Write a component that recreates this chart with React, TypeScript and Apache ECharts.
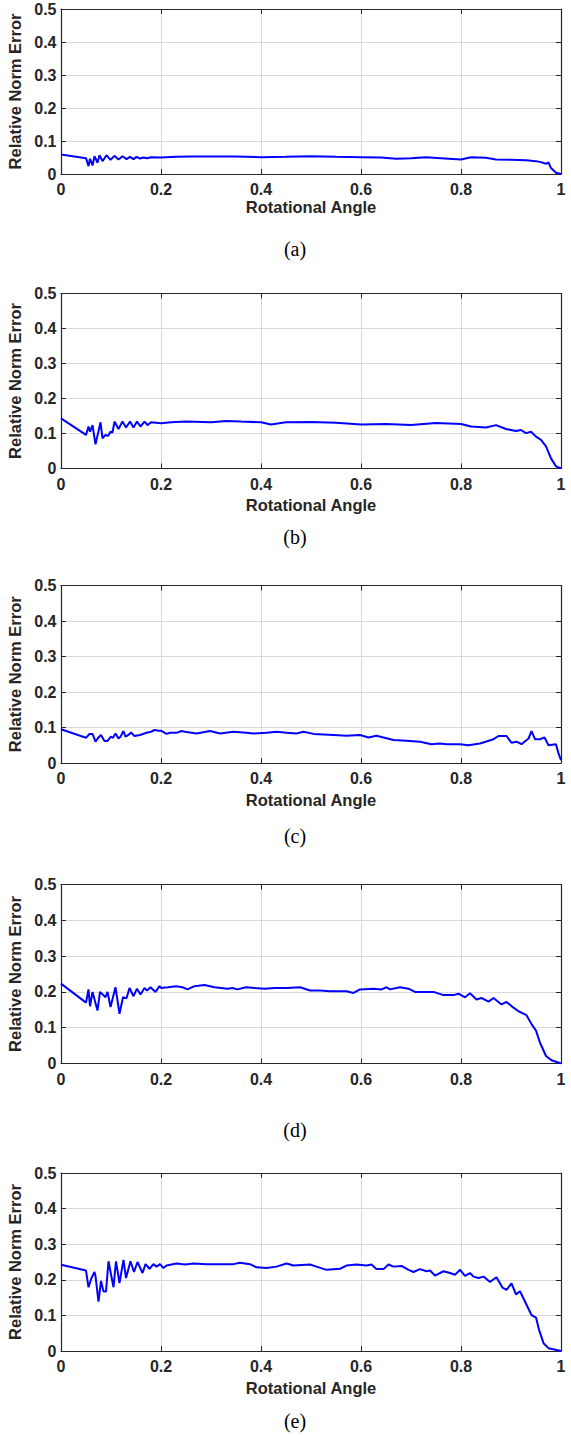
import React, { useEffect, useRef } from "react";
import * as echarts from "echarts";

// ---------- data ----------
const xTicks = [0, 0.2, 0.4, 0.6, 0.8, 1];
const yTicks = [0, 0.1, 0.2, 0.3, 0.4, 0.5];
const captions = ["(a)", "(b)", "(c)", "(d)", "(e)"];
const xTitle = "Rotational Angle";
const yTitle = "Relative Norm Error";
const showXTitle = [true, true, true, false, true];

const seriesA: number[][] = [
  [0, 0.059], [0.05, 0.048], [0.055, 0.024], [0.058, 0.046], [0.063, 0.026], [0.067, 0.054],
  [0.073, 0.034], [0.077, 0.057], [0.083, 0.039], [0.091, 0.057], [0.099, 0.043], [0.107, 0.055],
  [0.115, 0.044], [0.123, 0.054], [0.131, 0.045], [0.138, 0.052], [0.145, 0.045], [0.151, 0.052],
  [0.158, 0.047], [0.165, 0.05], [0.172, 0.048], [0.18, 0.051], [0.2, 0.05], [0.23, 0.052],
  [0.26, 0.053], [0.3, 0.053], [0.35, 0.053], [0.4, 0.051], [0.45, 0.052], [0.5, 0.054],
  [0.55, 0.052], [0.6, 0.051], [0.64, 0.05], [0.67, 0.046], [0.7, 0.048], [0.73, 0.051],
  [0.76, 0.048], [0.8, 0.044], [0.82, 0.051], [0.85, 0.049], [0.87, 0.044], [0.9, 0.043],
  [0.93, 0.042], [0.95, 0.039], [0.96, 0.036], [0.97, 0.031], [0.975, 0.035], [0.98, 0.018],
  [0.99, 0.004], [1, 0],
];

const seriesB: number[][] = [
  [0, 0.143], [0.05, 0.096], [0.055, 0.12], [0.058, 0.105], [0.063, 0.124], [0.069, 0.069],
  [0.079, 0.132], [0.083, 0.086], [0.089, 0.096], [0.094, 0.093], [0.099, 0.105], [0.103, 0.103],
  [0.107, 0.134], [0.115, 0.113], [0.123, 0.134], [0.13, 0.117], [0.138, 0.134], [0.145, 0.117],
  [0.152, 0.134], [0.159, 0.12], [0.167, 0.134], [0.173, 0.124], [0.18, 0.132], [0.2, 0.129],
  [0.22, 0.132], [0.25, 0.134], [0.3, 0.132], [0.33, 0.136], [0.36, 0.134], [0.4, 0.132],
  [0.42, 0.126], [0.45, 0.132], [0.5, 0.133], [0.55, 0.131], [0.6, 0.126], [0.65, 0.127],
  [0.7, 0.124], [0.75, 0.13], [0.8, 0.127], [0.82, 0.12], [0.85, 0.117], [0.87, 0.124],
  [0.89, 0.113], [0.91, 0.107], [0.92, 0.11], [0.93, 0.101], [0.94, 0.105], [0.95, 0.091],
  [0.96, 0.082], [0.97, 0.063], [0.98, 0.029], [0.99, 0.006], [1, 0],
];

const seriesC: number[][] = [
  [0, 0.095], [0.05, 0.071], [0.057, 0.082], [0.063, 0.082], [0.069, 0.06], [0.075, 0.072],
  [0.08, 0.079], [0.087, 0.062], [0.093, 0.062], [0.1, 0.074], [0.104, 0.071], [0.109, 0.083],
  [0.115, 0.069], [0.119, 0.074], [0.125, 0.09], [0.129, 0.074], [0.135, 0.079], [0.14, 0.086],
  [0.147, 0.076], [0.158, 0.079], [0.171, 0.085], [0.18, 0.088], [0.187, 0.093], [0.195, 0.091],
  [0.2, 0.091], [0.211, 0.082], [0.218, 0.085], [0.231, 0.085], [0.241, 0.09], [0.251, 0.087],
  [0.271, 0.083], [0.298, 0.09], [0.318, 0.083], [0.345, 0.088], [0.371, 0.085], [0.385, 0.083],
  [0.411, 0.085], [0.431, 0.088], [0.451, 0.085], [0.471, 0.083], [0.485, 0.088], [0.505, 0.082],
  [0.545, 0.079], [0.571, 0.077], [0.598, 0.079], [0.615, 0.072], [0.631, 0.077], [0.665, 0.065],
  [0.691, 0.063], [0.718, 0.06], [0.741, 0.053], [0.758, 0.055], [0.771, 0.053], [0.798, 0.053],
  [0.815, 0.05], [0.838, 0.055], [0.865, 0.067], [0.875, 0.076], [0.891, 0.076], [0.901, 0.057],
  [0.911, 0.06], [0.921, 0.053], [0.935, 0.069], [0.941, 0.09], [0.948, 0.067], [0.958, 0.067],
  [0.967, 0.072], [0.975, 0.05], [0.99, 0.053], [0.995, 0.027], [1, 0.008],
];

const seriesD: number[][] = [
  [0, 0.223], [0.05, 0.17], [0.055, 0.207], [0.058, 0.16], [0.063, 0.2], [0.073, 0.148],
  [0.078, 0.2], [0.089, 0.185], [0.093, 0.2], [0.099, 0.158], [0.109, 0.213], [0.117, 0.139],
  [0.124, 0.185], [0.131, 0.182], [0.137, 0.211], [0.145, 0.188], [0.152, 0.209], [0.159, 0.193],
  [0.167, 0.211], [0.172, 0.204], [0.179, 0.213], [0.189, 0.2], [0.197, 0.216], [0.2, 0.211],
  [0.214, 0.213], [0.23, 0.216], [0.243, 0.213], [0.253, 0.207], [0.267, 0.216], [0.287, 0.219],
  [0.307, 0.213], [0.32, 0.211], [0.333, 0.209], [0.343, 0.211], [0.353, 0.207], [0.37, 0.213],
  [0.387, 0.211], [0.407, 0.209], [0.427, 0.211], [0.453, 0.211], [0.478, 0.213], [0.498, 0.204],
  [0.518, 0.204], [0.538, 0.202], [0.571, 0.202], [0.585, 0.197], [0.598, 0.207], [0.625, 0.209],
  [0.641, 0.207], [0.651, 0.213], [0.658, 0.207], [0.678, 0.213], [0.695, 0.209], [0.708, 0.2],
  [0.725, 0.2], [0.745, 0.2], [0.765, 0.191], [0.785, 0.191], [0.795, 0.195], [0.808, 0.185],
  [0.818, 0.196], [0.831, 0.179], [0.841, 0.183], [0.855, 0.173], [0.865, 0.183], [0.881, 0.165],
  [0.891, 0.172], [0.905, 0.156], [0.915, 0.146], [0.931, 0.135], [0.941, 0.11], [0.95, 0.092],
  [0.958, 0.058], [0.97, 0.021], [0.981, 0.009], [1, 0],
];

const seriesE: number[][] = [
  [0, 0.242], [0.05, 0.226], [0.055, 0.179], [0.061, 0.205], [0.067, 0.222], [0.069, 0.21],
  [0.075, 0.139], [0.08, 0.197], [0.085, 0.167], [0.09, 0.167], [0.095, 0.252], [0.105, 0.179],
  [0.11, 0.252], [0.117, 0.191], [0.125, 0.256], [0.13, 0.205], [0.139, 0.252], [0.146, 0.222],
  [0.153, 0.25], [0.163, 0.219], [0.169, 0.244], [0.177, 0.231], [0.185, 0.244], [0.191, 0.237],
  [0.198, 0.244], [0.205, 0.233], [0.211, 0.24], [0.221, 0.243], [0.231, 0.246], [0.248, 0.243],
  [0.265, 0.246], [0.291, 0.244], [0.318, 0.244], [0.345, 0.244], [0.358, 0.248], [0.378, 0.244],
  [0.391, 0.235], [0.411, 0.233], [0.431, 0.237], [0.451, 0.246], [0.465, 0.24], [0.498, 0.243],
  [0.511, 0.237], [0.531, 0.228], [0.558, 0.231], [0.571, 0.24], [0.591, 0.243], [0.611, 0.24],
  [0.621, 0.243], [0.631, 0.23], [0.645, 0.23], [0.655, 0.243], [0.665, 0.237], [0.681, 0.239],
  [0.695, 0.228], [0.705, 0.222], [0.718, 0.23], [0.731, 0.224], [0.738, 0.226], [0.748, 0.212],
  [0.765, 0.224], [0.778, 0.219], [0.788, 0.214], [0.798, 0.228], [0.808, 0.211], [0.818, 0.219],
  [0.825, 0.209], [0.835, 0.205], [0.845, 0.209], [0.858, 0.194], [0.871, 0.207], [0.883, 0.178],
  [0.891, 0.172], [0.901, 0.19], [0.91, 0.159], [0.918, 0.168], [0.931, 0.13], [0.941, 0.101],
  [0.95, 0.094], [0.956, 0.06], [0.965, 0.022], [0.975, 0.008], [1, 0],
];

const allSeries = [seriesA, seriesB, seriesC, seriesD, seriesE];

// ---------- layout ----------
const W = 571;
const H = 1436;
const plotLeft = 61;
const plotWidth = 500;
const plotTops = [9, 293.5, 585.5, 884.5, 1173];
const plotHeights = [165, 175, 177.5, 179, 178];
const xNameGaps = [23, 28, 28, 28, 28];
const yNameGaps = [31, 27.5, 27.5, 27.5, 27.5];
const captionY = [249, 537, 836, 1130, 1421];

const AXIS = "#262626";
const GRID = "#d9d9d9";
const SANS = "'Liberation Sans', Arial, Helvetica, sans-serif";
const SERIF = "'Liberation Serif', 'Times New Roman', serif";

function buildOption() {
  const grid: any[] = [];
  const xAxis: any[] = [];
  const yAxis: any[] = [];
  const series: any[] = [];
  const graphic: any[] = [];
  const xMin = xTicks[0];
  const xMax = xTicks[xTicks.length - 1];
  const xInt = xTicks[1] - xTicks[0];
  const yMin = yTicks[0];
  const yMax = yTicks[yTicks.length - 1];
  const yInt = yTicks[1] - yTicks[0];

  allSeries.forEach((data, i) => {
    grid.push({
      left: plotLeft,
      top: plotTops[i],
      width: plotWidth,
      height: plotHeights[i],
      containLabel: false,
      outerBoundsMode: "none",
    });
    const axisLine = { show: true, onZero: false, lineStyle: { color: AXIS, width: 1.2 } };
    const axisTick = { show: true, inside: true, length: 5, lineStyle: { color: AXIS, width: 1 } };
    xAxis.push({
      type: "value",
      gridIndex: i,
      position: "bottom",
      min: xMin,
      max: xMax,
      interval: xInt,
      axisLine,
      axisTick,
      splitLine: { show: true, lineStyle: { color: GRID, width: 1 } },
      axisLabel: {
        show: true,
        margin: 7.5,
        color: AXIS,
        fontFamily: SANS,
        fontWeight: "bold",
        fontSize: 16,
      },
      name: showXTitle[i] ? xTitle : "",
      nameLocation: "middle",
      nameGap: xNameGaps[i],
      nameTextStyle: { color: AXIS, fontFamily: SANS, fontWeight: "bold", fontSize: 16.5 },
    });
    xAxis.push({
      type: "value",
      gridIndex: i,
      position: "top",
      min: xMin,
      max: xMax,
      interval: xInt,
      axisLine,
      axisTick,
      splitLine: { show: false },
      axisLabel: { show: false },
    });
    yAxis.push({
      type: "value",
      gridIndex: i,
      position: "left",
      min: yMin,
      max: yMax,
      interval: yInt,
      axisLine,
      axisTick,
      splitLine: { show: true, lineStyle: { color: GRID, width: 1 } },
      axisLabel: {
        show: true,
        margin: 4.5,
        color: AXIS,
        fontFamily: SANS,
        fontWeight: "bold",
        fontSize: 16,
      },
      name: yTitle,
      nameLocation: "middle",
      nameGap: yNameGaps[i],
      nameRotate: 90,
      nameTextStyle: { color: AXIS, fontFamily: SANS, fontWeight: "bold", fontSize: 16.5 },
    });
    yAxis.push({
      type: "value",
      gridIndex: i,
      position: "right",
      min: yMin,
      max: yMax,
      interval: yInt,
      axisLine,
      axisTick,
      splitLine: { show: false },
      axisLabel: { show: false },
    });
    series.push({
      type: "line",
      xAxisIndex: 2 * i,
      yAxisIndex: 2 * i,
      data,
      showSymbol: false,
      symbol: "none",
      smooth: false,
      lineStyle: { color: "#0000ff", width: 2 },
      z: 3,
    });
    graphic.push({
      type: "text",
      x: 295,
      y: captionY[i],
      style: {
        text: captions[i],
        fill: "#000",
        font: `20px ${SERIF}`,
        textAlign: "center",
        textVerticalAlign: "middle",
      },
    });
  });

  return {
    animation: false,
    backgroundColor: "#ffffff",
    grid,
    xAxis,
    yAxis,
    series,
    graphic,
  };
}

export default function App() {
  const ref = useRef<HTMLDivElement>(null);
  useEffect(() => {
    if (!ref.current) return;
    const chart = echarts.init(ref.current, null, { renderer: "svg", width: W, height: H });
    chart.setOption(buildOption() as any);
    return () => chart.dispose();
  }, []);
  return (
    <div
      ref={ref}
      style={{ position: "absolute", left: 0, top: 0, width: W, height: H, background: "#fff" }}
    />
  );
}
